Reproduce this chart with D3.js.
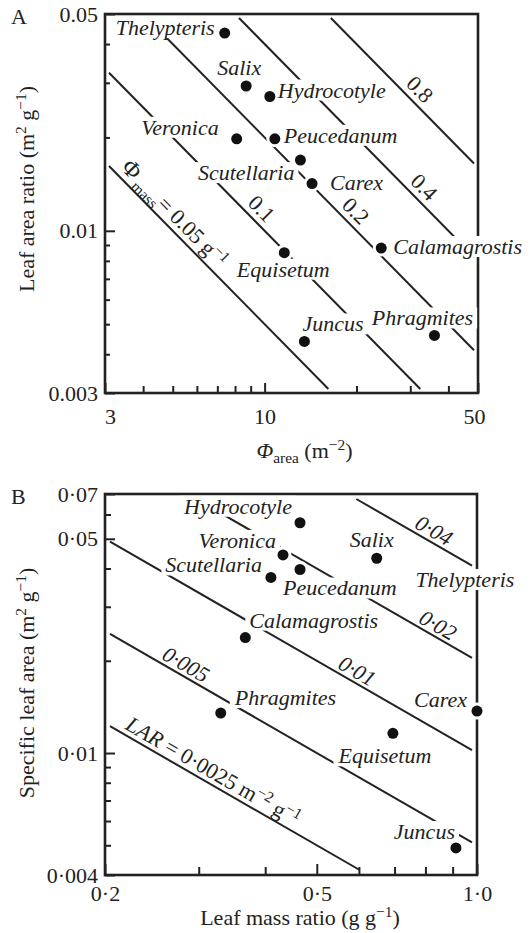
<!DOCTYPE html>
<html>
<head>
<meta charset="utf-8">
<script src="https://cdn.jsdelivr.net/npm/d3@7"></script>
<style>
  html, body { margin: 0; padding: 0; background: #fff; }
  svg { display: block; }
  text { font-family: "Liberation Serif", "Times New Roman", serif; fill: #222; }
</style>
</head>
<body>
<svg id="chart" width="530" height="933"></svg>
<script>

// ---- Panel A data: leaf area ratio vs phi(area)
var speciesA = ["Thelypteris", "Salix", "Hydrocotyle", "Veronica", "Peucedanum", "Scutellaria",
                "Carex", "Equisetum", "Calamagrostis", "Juncus", "Phragmites"];
var phiArea = [7.4, 8.7, 10.4, 8.1, 10.8, 13.1, 14.3, 11.6, 24.1, 13.5, 36.0];
var leafAreaRatio = [0.0434, 0.0293, 0.0271, 0.0198, 0.0198, 0.0169, 0.0142, 0.0085, 0.0088, 0.0044, 0.0046];
var phiMassLevels = [0.05, 0.1, 0.2, 0.4, 0.8];
var xTicksA = [3, 10, 50];
var xMinorA = [4, 5, 6, 7, 8, 9, 20, 30, 40];
var yTicksA = [0.003, 0.01, 0.05];
var yTickLabelsA = ["0.003", "0.01", "0.05"];
var yMinorA = [0.004, 0.005, 0.006, 0.007, 0.008, 0.009, 0.02, 0.03, 0.04];

// ---- Panel B data: specific leaf area vs leaf mass ratio
var speciesB = ["Hydrocotyle", "Veronica", "Peucedanum", "Scutellaria", "Salix", "Calamagrostis",
                "Phragmites", "Carex", "Equisetum", "Juncus"];
var leafMassRatio = [0.465, 0.432, 0.465, 0.41, 0.648, 0.367, 0.330, 1.0, 0.695, 0.913];
var specificLeafArea = [0.0564, 0.0443, 0.0397, 0.0374, 0.0432, 0.0238, 0.0135, 0.0137, 0.0116, 0.0049];
var larLevels = [0.0025, 0.005, 0.01, 0.02, 0.04];
var xTicksB = [0.2, 0.5, 1.0];
var xTickLabelsB = ["0·2", "0·5", "1·0"];
var xMinorB = [0.3, 0.4, 0.6, 0.7, 0.8, 0.9];
var yTicksB = [0.004, 0.01, 0.05, 0.07];
var yTickLabelsB = ["0·004", "0·01", "0·05", "0·07"];
var yMinorB = [0.005, 0.006, 0.007, 0.008, 0.009, 0.02, 0.03, 0.04, 0.06];

// label placement (pixels relative to the dot)
var labelPosA = {
    "Thelypteris":   {dx: -10, dy: 2,   anchor: "end"},
    "Salix":         {dx: -7,  dy: -11, anchor: "middle"},
    "Hydrocotyle":   {dx: 8,   dy: 1,   anchor: "start"},
    "Veronica":      {dx: -18, dy: -4,  anchor: "end"},
    "Peucedanum":    {dx: 9,   dy: 4,   anchor: "start"},
    "Scutellaria":   {dx: -6,  dy: 20,  anchor: "end"},
    "Carex":         {dx: 18,  dy: 6,   anchor: "start"},
    "Equisetum":     {dx: -1,  dy: 24,  anchor: "middle"},
    "Calamagrostis": {dx: 12,  dy: 6,   anchor: "start"},
    "Juncus":        {dx: -2,  dy: -10, anchor: "start"},
    "Phragmites":    {dx: -12, dy: -10, anchor: "middle"}
};
var labelPosB = {
    "Hydrocotyle":   {dx: -8,  dy: -9,  anchor: "end"},
    "Veronica":      {dx: -7,  dy: -7,  anchor: "end"},
    "Scutellaria":   {dx: -9,  dy: -5,  anchor: "end"},
    "Peucedanum":    {dx: -17, dy: 26,  anchor: "start"},
    "Salix":         {dx: -5,  dy: -11, anchor: "middle"},
    "Calamagrostis": {dx: 4,   dy: -10, anchor: "start"},
    "Phragmites":    {dx: 14,  dy: -8,  anchor: "start"},
    "Carex":         {dx: -10, dy: -4,  anchor: "end"},
    "Equisetum":     {dx: -8,  dy: 30,  anchor: "middle"},
    "Juncus":        {dx: -1,  dy: -9,  anchor: "end"}
};
// Thelypteris has no point inside panel B, only its name
var labelOnlyB = {name: "Thelypteris", lmr: 0.766, sla: 0.0348};

// where each iso-line label sits (x value of its foot on the line)
var isoLabelA = {0.05: 3.25, 0.1: 9.1, 0.2: 18.5, 0.4: 31, 0.8: 30};
var isoLabelB = {0.0025: 0.215, 0.005: 0.277, 0.01: 0.581, 0.02: 0.824, 0.04: 0.81};

var FS = 22;
var svg = d3.select("#chart");

function init() {

    var boxA = {left: 105, right: 478, top: 14, bottom: 393};
    var boxB = {left: 105, right: 477, top: 494, bottom: 875};

    var xA = d3.scaleLog().domain([3, 50]).range([boxA.left, boxA.right]);
    var yA = d3.scaleLog().domain([0.003, 0.05]).range([boxA.bottom, boxA.top]);
    var xB = d3.scaleLog().domain([0.2, 1.0]).range([boxB.left, boxB.right]);
    var yB = d3.scaleLog().domain([0.004, 0.07]).range([boxB.bottom, boxB.top]);

    var gA = svg.append("g");
    var gB = svg.append("g");

    // ---------- iso-lines ----------
    function isoSegment(level, x, y, box, inset) {
        // y = level / x ; clip to the inner box
        var x0 = x.invert(box.left + inset), x1 = x.invert(box.right - inset);
        var yTop = y.invert(box.top + inset), yBot = y.invert(box.bottom - inset);
        var a = Math.max(x0, level / yTop);
        var b = Math.min(x1, level / yBot);
        return [[x(a), y(level / a)], [x(b), y(level / b)]];
    }

    function drawIsoLines(g, levels, x, y, box, inset) {
        g.append("g").selectAll("line")
            .data(levels)
            .enter()
            .append("line")
            .each(function (d) {
                var s = isoSegment(d, x, y, box, inset);
                d3.select(this)
                    .attr("x1", s[0][0]).attr("y1", s[0][1])
                    .attr("x2", s[1][0]).attr("y2", s[1][1]);
            })
            .attr("stroke", "#222")
            .attr("stroke-width", 2);
    }

    drawIsoLines(gA, phiMassLevels, xA, yA, boxA, 4);
    drawIsoLines(gB, larLevels, xB, yB, boxB, 5);

    // ---------- frames ----------
    function frame(g, box) {
        g.append("rect")
            .attr("x", box.left).attr("y", box.top)
            .attr("width", box.right - box.left)
            .attr("height", box.bottom - box.top)
            .attr("fill", "none")
            .attr("stroke", "#222")
            .attr("stroke-width", 2.6);
    }
    frame(gA, boxA);
    frame(gB, boxB);

    // ---------- axes (ticks point inward) ----------
    function styleAxis(sel) {
        sel.select(".domain").remove();
        sel.selectAll(".tick line").attr("stroke", "#222").attr("stroke-width", 2);
        sel.selectAll("text")
            .attr("font-family", "Liberation Serif, serif")
            .attr("font-size", FS)
            .attr("fill", "#222");
    }

    // A x
    gA.append("g").attr("transform", "translate(0," + boxA.bottom + ")")
        .call(d3.axisBottom(xA).tickValues(xTicksA).tickSize(-10).tickPadding(15)
            .tickFormat(function (d) { return String(d); }))
        .call(styleAxis)
        .selectAll(".tick text")
        .attr("dx", function (d, i) { return i === 0 ? 5 : (i === 2 ? -4 : 0); });
    gA.append("g").attr("transform", "translate(0," + boxA.bottom + ")")
        .call(d3.axisBottom(xA).tickValues(xMinorA).tickSize(-7).tickFormat(""))
        .call(styleAxis);
    // A y
    gA.append("g").attr("transform", "translate(" + boxA.left + ",0)")
        .call(d3.axisLeft(yA).tickValues(yTicksA).tickSize(-10).tickPadding(7)
            .tickFormat(function (d, i) { return yTickLabelsA[i]; }))
        .call(styleAxis);
    gA.append("g").attr("transform", "translate(" + boxA.left + ",0)")
        .call(d3.axisLeft(yA).tickValues(yMinorA).tickSize(-5).tickFormat(""))
        .call(styleAxis);

    // B x
    gB.append("g").attr("transform", "translate(0," + boxB.bottom + ")")
        .call(d3.axisBottom(xB).tickValues(xTicksB).tickSize(-11).tickPadding(10)
            .tickFormat(function (d, i) { return xTickLabelsB[i]; }))
        .call(styleAxis);
    gB.append("g").attr("transform", "translate(0," + boxB.bottom + ")")
        .call(d3.axisBottom(xB).tickValues(xMinorB).tickSize(-8).tickFormat(""))
        .call(styleAxis);
    // B y
    gB.append("g").attr("transform", "translate(" + boxB.left + ",0)")
        .call(d3.axisLeft(yB).tickValues(yTicksB).tickSize(-10).tickPadding(7)
            .tickFormat(function (d, i) { return yTickLabelsB[i]; }))
        .call(styleAxis);
    gB.append("g").attr("transform", "translate(" + boxB.left + ",0)")
        .call(d3.axisLeft(yB).tickValues(yMinorB).tickSize(-6).tickFormat(""))
        .call(styleAxis);

    // white box under a label so it cuts lines and frame
    function backText(grp, t) {
        var bb = t.node().getBBox();
        grp.insert("rect", "text")
            .attr("fill", "#fff")
            .attr("x", bb.x - 4).attr("y", bb.y + 2)
            .attr("width", bb.width + 8).attr("height", bb.height - 4);
    }

    // ---------- points + species labels ----------
    function putSpecies(g, names, xs, ys, x, y, pos) {
        var pts = names.map(function (n, i) { return {name: n, x: x(xs[i]), y: y(ys[i])}; });

        // white halo behind dots
        g.append("g").selectAll("circle")
            .data(pts).enter().append("circle")
            .attr("cx", function (d) { return d.x; })
            .attr("cy", function (d) { return d.y; })
            .attr("r", 8.5)
            .attr("fill", "#fff");

        g.append("g").selectAll("g")
            .data(pts).enter().append("g")
            .each(function (d) {
                var p = pos[d.name];
                var grp = d3.select(this);
                var t = grp.append("text")
                    .attr("x", d.x + p.dx)
                    .attr("y", d.y + p.dy)
                    .attr("text-anchor", p.anchor)
                    .attr("font-size", FS)
                    .attr("font-style", "italic")
                    .text(d.name);
                backText(grp, t);
            });

        g.append("g").selectAll("circle")
            .data(pts).enter().append("circle")
            .attr("cx", function (d) { return d.x; })
            .attr("cy", function (d) { return d.y; })
            .attr("r", 5.5)
            .attr("fill", "#111");
    }

    putSpecies(gA, speciesA, phiArea, leafAreaRatio, xA, yA, labelPosA);
    putSpecies(gB, speciesB, leafMassRatio, specificLeafArea, xB, yB, labelPosB);

    // label-only species in B
    var only = gB.append("g");
    var onlyText = only.append("text")
        .attr("x", xB(labelOnlyB.lmr))
        .attr("y", yB(labelOnlyB.sla))
        .attr("font-size", FS)
        .attr("font-style", "italic")
        .text(labelOnlyB.name);
    backText(only, onlyText);

    // ---------- iso-line labels (on top) ----------
    function isoLabel(g, level, footX, x, y, offset, italic) {
        var p0 = [x(footX), y(level / footX)];
        var p1 = [x(footX * 1.1), y(level / (footX * 1.1))];
        var ang = Math.atan2(p1[1] - p0[1], p1[0] - p0[0]) * 180 / Math.PI;
        return g.append("text")
            .attr("transform", "translate(" + p0[0] + "," + p0[1] + ") rotate(" + ang + ")")
            .attr("y", -offset)
            .attr("font-size", FS)
            .attr("font-style", italic ? "italic" : "normal");
    }

    phiMassLevels.forEach(function (v) {
        if (v === 0.05) {
            var t = isoLabel(gA, v, isoLabelA[v], xA, yA, 6, false).attr("text-anchor", "start");
            t.append("tspan").attr("font-size", FS + 2).text("Φ");
            t.append("tspan").attr("font-size", FS * 0.7).attr("dx", 3).attr("dy", 6).text("mass");
            t.append("tspan").attr("dy", -6).text("= 0.05 g");
            t.append("tspan").attr("font-size", FS * 0.7).attr("dy", -8).text("−1");
        } else {
            isoLabel(gA, v, isoLabelA[v], xA, yA, 6, false)
                .attr("text-anchor", "middle")
                .text(String(v));
        }
    });

    larLevels.forEach(function (v) {
        if (v === 0.0025) {
            var t = isoLabel(gB, v, isoLabelB[v], xB, yB, 5, false).attr("text-anchor", "start");
            t.append("tspan").attr("font-style", "italic").text("LAR");
            t.append("tspan").text(" = 0·0025 m");
            t.append("tspan").attr("font-size", FS * 0.7).attr("dy", -8).text("−2");
            t.append("tspan").attr("dy", 8).text(" g");
            t.append("tspan").attr("font-size", FS * 0.7).attr("dy", -8).text("−1");
        } else {
            isoLabel(gB, v, isoLabelB[v], xB, yB, 4, true)
                .attr("text-anchor", "middle")
                .text(String(v).replace(".", "·"));
        }
    });

    // ---------- titles ----------
    svg.append("text").attr("x", 11).attr("y", 24).attr("font-size", FS).text("A");
    svg.append("text").attr("x", 11).attr("y", 504).attr("font-size", FS).text("B");

    function yTitle(label, cy) {
        var t = svg.append("text")
            .attr("transform", "translate(34," + cy + ") rotate(-90)")
            .attr("text-anchor", "middle")
            .attr("font-size", FS);
        t.append("tspan").text(label + " (m");
        t.append("tspan").attr("font-size", FS * 0.7).attr("dy", -8).text("2");
        t.append("tspan").attr("dy", 8).text(" g");
        t.append("tspan").attr("font-size", FS * 0.7).attr("dy", -8).text("−1");
        t.append("tspan").attr("dy", 8).text(")");
    }
    yTitle("Leaf area ratio", 189);
    yTitle("Specific leaf area", 683);

    var tx = svg.append("text")
        .attr("x", (boxA.left + boxA.right) / 2 + 13).attr("y", 458)
        .attr("text-anchor", "middle")
        .attr("font-size", FS);
    tx.append("tspan").attr("font-style", "italic").text("Φ");
    tx.append("tspan").attr("font-size", FS * 0.7).attr("dy", 5).text("area");
    tx.append("tspan").attr("dy", -5).text(" (m");
    tx.append("tspan").attr("font-size", FS * 0.7).attr("dy", -8).text("−2");
    tx.append("tspan").attr("dy", 8).text(")");

    var tb = svg.append("text")
        .attr("x", (boxB.left + boxB.right) / 2 + 9).attr("y", 925)
        .attr("text-anchor", "middle")
        .attr("font-size", FS);
    tb.append("tspan").text("Leaf mass ratio (g g");
    tb.append("tspan").attr("font-size", FS * 0.7).attr("dy", -8).text("−1");
    tb.append("tspan").attr("dy", 8).text(")");
}

init();
</script>
</body>
</html>
